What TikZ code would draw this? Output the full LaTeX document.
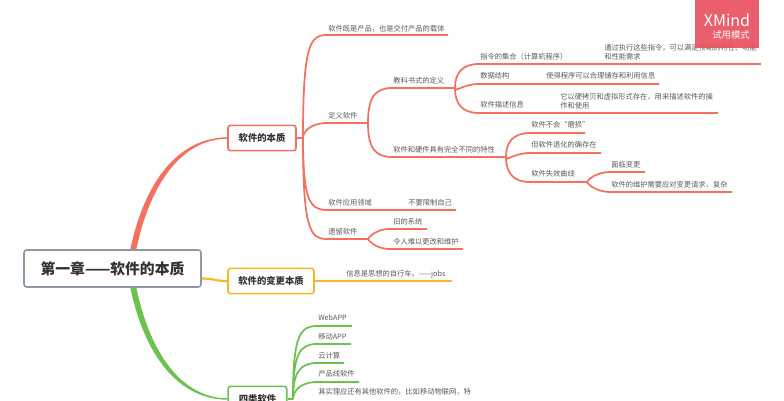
\documentclass[tikz,border=0pt]{standalone}
\usepackage{fontspec}
\setmainfont{Noto Sans CJK SC}
\usetikzlibrary{calc}
\definecolor{cred}{HTML}{F4705F}
\definecolor{cyel}{HTML}{F7B825}
\definecolor{cgrn}{HTML}{6CC24F}
\definecolor{cgry}{HTML}{8E99A8}
\definecolor{ctxt}{HTML}{5A5A5A}
\definecolor{cdark}{HTML}{333333}
\definecolor{cxm}{HTML}{E9525F}
\tikzset{
  lbl/.style={anchor=west,inner sep=0pt,text=ctxt,font=\fontsize{5.45}{6.9}\selectfont,align=left},
  rootbox/.style={draw=cgry,line width=1.2pt,rounded corners=2pt,fill=white,text=cdark,inner sep=0pt,minimum width=132.75pt,minimum height=27.75pt,font=\fontsize{11.1}{12}\selectfont\bfseries},
  topicbox/.style={line width=1.2pt,rounded corners=2pt,fill=white,text=cdark,inner sep=0pt,minimum height=19pt,font=\fontsize{7}{8}\selectfont\bfseries},
  redl/.style={draw=cred,line width=1.3pt},
  yelline/.style={draw=cyel,line width=1.6pt},
  grnl/.style={draw=cgrn,line width=1.3pt}
}
% \brn{style}{junction}{end}{run}: rounded curve from junction, then straight to end
\newcommand{\brn}[4]{\draw[#1] (#2) .. controls ($(#2 |- #3)!7pt!(#2)$) and ($(#2 |- #3)+(7,0)$) .. ($(#2 |- #3)+(#4,0)$) -- (#3);}
\begin{document}
\begin{tikzpicture}[x=0.75pt,y=-0.75pt]
\useasboundingbox (0,0) rectangle (784,400);
\fill[white] (0,0) rectangle (784,400);
% main branches
\coordinate (ra) at (130,251);
\coordinate (rb) at (136,251);
\coordinate (ga) at (130,286);
\coordinate (gb) at (136,286);
\coordinate (t1w) at (228,138);
\coordinate (t3w) at (228,399);
\fill[cred] (ra) .. controls +(12,-60) and ($(t1w)+(-55,-0.7)$) .. ($(t1w)+(0,-0.7)$) -- ($(t1w)+(0,0.7)$) .. controls ($(t1w)+(-50,0.7)$) and ($(rb)+(12,-60)$) .. (rb) -- cycle;
\fill[cgrn] (ga) .. controls +(12,60) and ($(t3w)+(-55,0.7)$) .. ($(t3w)+(0,0.7)$) -- ($(t3w)+(0,-0.7)$) .. controls ($(t3w)+(-50,-0.7)$) and ($(gb)+(12,60)$) .. (gb) -- cycle;
% topic boxes
\node[rootbox] (root) at (112.5,268.5) {第一章——软件的本质};
\node[topicbox,draw=cred,minimum width=51pt] (t1) at (262,138) {软件的本质};
\node[topicbox,draw=cyel,minimum width=64.5pt] (t2) at (271,281) {软件的变更本质};
\node[topicbox,draw=cgrn,minimum width=44pt] (t3) at (257.5,399) {四类软件};
\draw[yelline] ($(root.east)+(0,10)$) .. controls +(12,0) and ($(t2.west)+(-12,0)$) .. (t2.west);
% red: level 1
\coordinate (j1) at (303,138);
\draw[redl] (t1.east) -- (j1);
\node[lbl] (a1) at (328,29) {软件既是产品，也是交付产品的载体};
\node[lbl] (a2) at (328,116) {定义软件};
\node[lbl] (a3) at (328,203) {软件应用领域};
\node[lbl] (a4) at (328,232) {遗留软件};
\coordinate (e1) at (448,35);
\coordinate (j2) at (368,123);
\coordinate (e3) at (456,210);
\coordinate (j4) at (368,239);
\brn{redl}{j1}{e1}{24}
\brn{redl}{j1}{j2}{24}
\brn{redl}{j1}{e3}{24}
\brn{redl}{j1}{j4}{24}
\node[lbl] (a3b) at (408,203) {不要限制自己};
% legacy
\node[lbl] (c1) at (393,222) {旧的系统};
\node[lbl] (c2) at (393,242) {令人难以更改和维护};
\coordinate (ec1) at (427,229);
\coordinate (ec2) at (463,249);
\brn{redl}{j4}{ec1}{22}
\brn{redl}{j4}{ec2}{22}
% definition
\node[lbl] (b1) at (393,81) {教科书式的定义};
\node[lbl] (b2) at (393,150) {软件和硬件具有完全不同的特性};
\coordinate (j5) at (455,88);
\coordinate (j6) at (506,157);
\brn{redl}{j2}{j5}{24}
\brn{redl}{j2}{j6}{24}
% textbook
\node[lbl] (d1) at (480,57) {指令的集合（计算机程序）};
\node[lbl] (d2) at (480,76) {数据结构};
\node[lbl] (d3) at (480,105) {软件描述信息};
\node[lbl] (d1b) at (604,52) {通过执行这些指令，可以满足预期的特性、功能\\和性能需求};
\node[lbl] (d2b) at (546,76) {使得程序可以合理储存和利用信息};
\node[lbl] (d3b) at (560,101.5) {它以硬拷贝和虚拟形式存在，用来描述软件的操\\作和使用};
\coordinate (ed1) at (761,64);
\coordinate (ed2) at (659,84);
\coordinate (ed3) at (718,113);
\brn{redl}{j5}{ed1}{24}
\brn{redl}{j5}{ed2}{24}
\brn{redl}{j5}{ed3}{24}
% hardware vs software
\node[lbl] (f1) at (531,125) {软件不会“磨损”};
\node[lbl] (f2) at (531,145) {但软件退化的确存在};
\node[lbl] (f3) at (531,174) {软件失效曲线};
\coordinate (ef1) at (585,133);
\coordinate (ef2) at (601,153);
\coordinate (j7) at (587,182);
\brn{redl}{j6}{ef1}{24}
\brn{redl}{j6}{ef2}{24}
\brn{redl}{j6}{j7}{24}
\node[lbl] (g1) at (611,165) {面临变更};
\node[lbl] (g2) at (611,185) {软件的维护需要应对变更请求，复杂};
\coordinate (eg1) at (645,172);
\coordinate (eg2) at (732,192);
\brn{redl}{j7}{eg1}{24}
\brn{redl}{j7}{eg2}{24}
% yellow
\coordinate (ey) at (452,281);
\draw[yelline] (t2.east) -- (ey);
\node[lbl] (y1) at (346,274) {信息是思想的自行车。——jobs};
% green
\coordinate (j8) at (293,399);
\draw[grnl] (t3.east) -- (j8);
\node[lbl] (h1) at (318,318) {WebAPP};
\node[lbl] (h2) at (318,337) {移动APP};
\node[lbl] (h3) at (318,356) {云计算};
\node[lbl] (h4) at (318,374) {产品线软件};
\node[lbl] (h5) at (318,392) {其实理应还有其他软件的，比如移动物联网，特};
\coordinate (eh1) at (352,326);
\coordinate (eh2) at (351,344);
\coordinate (eh3) at (344,363);
\coordinate (eh4) at (359,382);
\brn{grnl}{j8}{eh1}{24}
\brn{grnl}{j8}{eh2}{24}
\brn{grnl}{j8}{eh3}{24}
\brn{grnl}{j8}{eh4}{24}
% watermark
\fill[cxm,fill opacity=0.92] (695,0) rectangle (759,48);
\node[inner sep=0pt,text=white,font=\fontsize{12}{13}\selectfont] (xm) at (727,20) {XMind};
\node[inner sep=0pt,text=white,font=\fontsize{7}{8}\selectfont] (xm2) at (731,35) {试用模式};
\end{tikzpicture}
\end{document}
